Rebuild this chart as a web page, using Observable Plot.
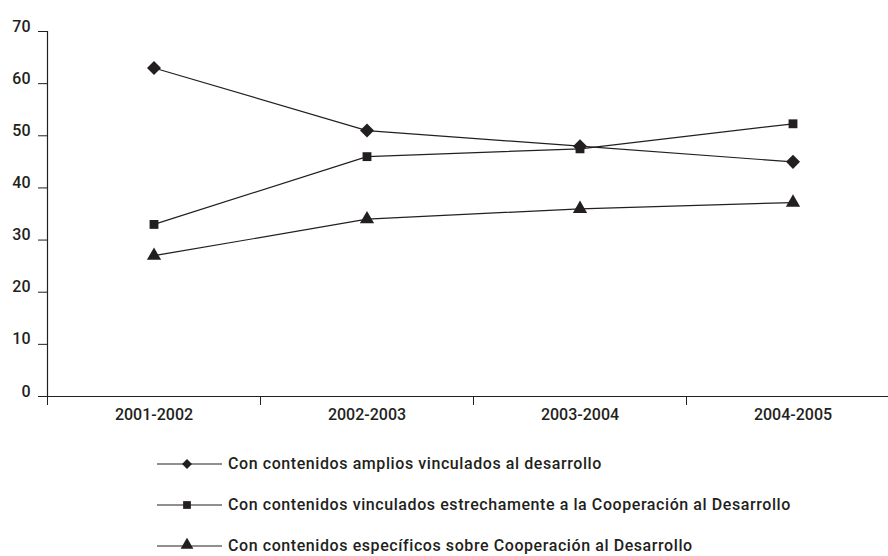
<!DOCTYPE html>
<html><head><meta charset="utf-8">
<script src="https://cdn.jsdelivr.net/npm/d3@7"></script>
<script src="https://cdn.jsdelivr.net/npm/@observablehq/plot@0.6"></script>
<style>
body{margin:0;background:#fff;font-family:Roboto,"DejaVu Sans",sans-serif;color:#231f20}
#legend{padding-top:13px}
.row{display:flex;align-items:center;height:41px;margin-left:157px;font-size:16px;font-weight:500;letter-spacing:0.58px}
.row span{margin-left:6px}
</style></head><body>
<div id="chart"></div>
<div id="legend"></div>
<script>
const categories = ["2001-2002","2002-2003","2003-2004","2004-2005"];
const seriesNames = [
  "Con contenidos amplios vinculados al desarrollo",
  "Con contenidos vinculados estrechamente a la Cooperación al Desarrollo",
  "Con contenidos específicos sobre Cooperación al Desarrollo"
];
const amplios = [63, 51, 48, 45];
const estrechamente = [33, 46, 47.5, 52.3];
const especificos = [27, 34, 36, 37.2];
const yTicks = [0,10,20,30,40,50,60,70];

const ink = "#231f20";
const seriesValues = [amplios, estrechamente, especificos];
const symbols = ["square","square","triangle"];
const rotates = [45, 0, 0];
const radii = [5.6, 5, 5.3];
const data = [];
seriesValues.forEach((vals, s) => vals.forEach((v, i) => data.push({series: seriesNames[s], s, i: i + 0.5, v})));

const plot = Plot.plot({
  width: 888, height: 430,
  marginLeft: 47, marginRight: 0, marginTop: 31, marginBottom: 34,
  style: {fontFamily: "Roboto, sans-serif", fontSize: "16px", fontWeight: 500, color: ink},
  x: {type: "linear", domain: [0, 4], range: [47, 899], axis: null},
  y: {domain: [0, 70], axis: null},
  marks: [
    Plot.ruleY([0], {stroke: ink, strokeWidth: 1.2}),
    Plot.ruleX([0], {stroke: ink, strokeWidth: 1.2}),
    Plot.axisY({ticks: yTicks, tickSize: 9, tickFormat: () => "", stroke: ink, label: null}),
    Plot.axisY({ticks: yTicks, tickSize: 0, tickPadding: 17, dy: -5, fill: ink, fontWeight: 500, label: null}),
    Plot.axisX({ticks: d3.range(categories.length + 1), tickSize: 9, tickFormat: () => "", stroke: ink, label: null}),
    Plot.axisX({ticks: categories.map((c, i) => i + 0.5), tickSize: 0, tickPadding: 12, tickFormat: t => categories[Math.floor(t)], fill: ink, fontWeight: 500, label: null}),
    Plot.line(data, {x: "i", y: "v", z: "series", stroke: ink, strokeWidth: 1.2}),
    ...seriesNames.map((n, s) => Plot.dot(data.filter(d => d.s === s), {x: "i", y: "v", symbol: symbols[s], rotate: rotates[s], r: radii[s], fill: ink, stroke: "none"}))
  ]
});
document.getElementById("chart").appendChild(plot);

const legend = document.getElementById("legend");
const legendSymbols = [d3.symbolSquare, d3.symbolSquare, d3.symbolTriangle];
const legendSizes = [50, 60, 70];
seriesNames.forEach((n, s) => {
  const row = document.createElement("div");
  row.className = "row";
  const svg = d3.create("svg").attr("width", 65).attr("height", 16);
  svg.append("line").attr("x1", 0).attr("x2", 65).attr("y1", 8).attr("y2", 8).attr("stroke", ink).attr("stroke-width", 1.2);
  svg.append("path").attr("d", d3.symbol(legendSymbols[s], legendSizes[s])())
     .attr("transform", `translate(30,${s === 2 ? 7 : 8}) rotate(${rotates[s]})`).attr("fill", ink);
  row.appendChild(svg.node());
  const t = document.createElement("span");
  t.textContent = n;
  row.appendChild(t);
  legend.appendChild(row);
});
</script></body></html>
